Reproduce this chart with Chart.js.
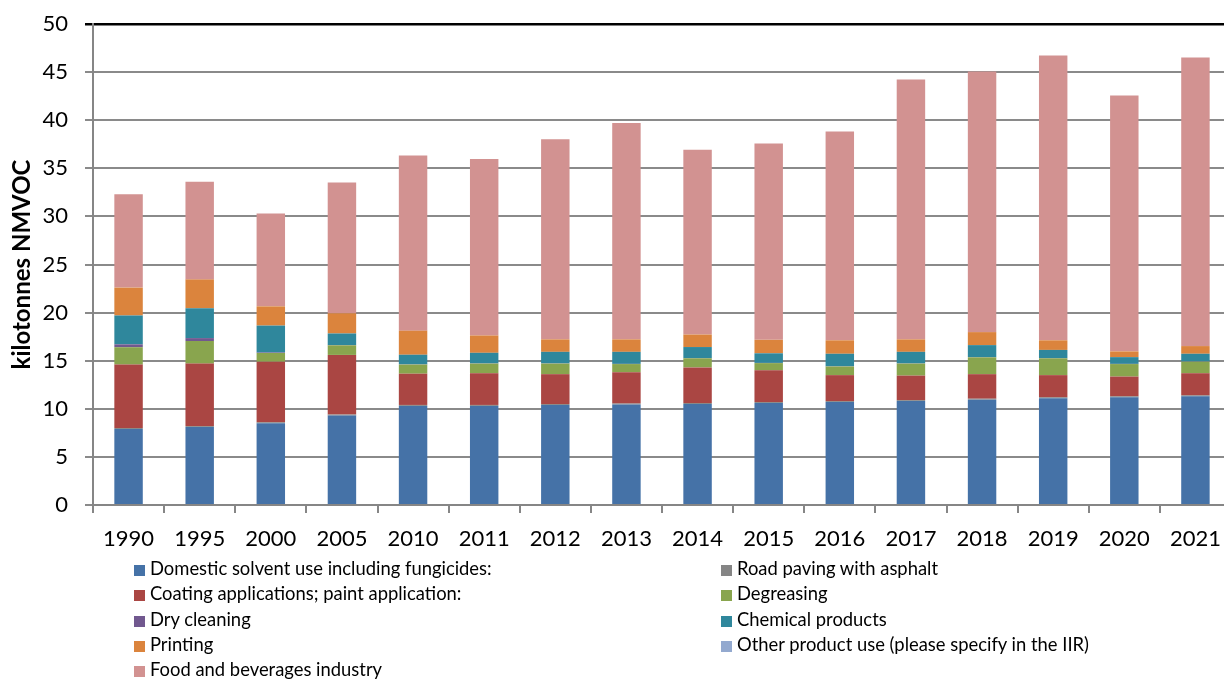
<!DOCTYPE html>
<html>
<head>
<meta charset="utf-8">
<script src="https://cdn.jsdelivr.net/npm/chart.js@4/dist/chart.umd.min.js"></script>
<style>
  html, body { margin: 0; padding: 0; background: #fff; overflow: hidden; width: 1224px; height: 681px; }
  #wrap { position: absolute; left: 0; top: 0; width: 1240px; height: 555px; }
  #legend { position: absolute; left: 0; top: 0; width: 1224px; height: 681px; pointer-events: none;
            font-family: Lato, "Open Sans", sans-serif; font-size: 18.4px; color: #000; }
  .item { position: absolute; height: 25px; line-height: 25px; white-space: nowrap; }
  .box { display: inline-block; width: 11px; height: 11px; margin-right: 5px; vertical-align: -1px; }
</style>
</head>
<body>
<div id="wrap"><canvas id="chart" width="1240" height="555"></canvas></div>
<div id="legend"></div>
<script>
// NMVOC emissions from solvent and product use, kilotonnes
const years = ['1990','1995','2000','2005','2010','2011','2012','2013','2014','2015','2016','2017','2018','2019','2020','2021'];

const domestic   = [7.9, 8.1, 8.5, 9.3, 10.3, 10.3, 10.4, 10.45, 10.5, 10.6, 10.7, 10.8, 10.95, 11.1, 11.2, 11.3];
const roadPaving = [0.1, 0.1, 0.1, 0.1, 0.1, 0.1, 0.1, 0.1, 0.1, 0.1, 0.1, 0.1, 0.1, 0.1, 0.1, 0.1];
const coating    = [6.6, 6.5, 6.3, 6.2, 3.25, 3.3, 3.1, 3.25, 3.7, 3.3, 2.7, 2.55, 2.55, 2.3, 2.05, 2.3];
const degreasing = [1.8, 2.35, 0.9, 1.0, 0.95, 1.0, 1.1, 0.85, 0.95, 0.75, 0.9, 1.25, 1.75, 1.75, 1.3, 1.2];
const dryCleaning= [0.3, 0.3, 0.05, 0.03, 0.02, 0.02, 0.02, 0.02, 0.02, 0.02, 0.02, 0.02, 0.02, 0.02, 0.02, 0.02];
const chemical   = [3.0, 3.1, 2.8, 1.2, 1.0, 1.1, 1.2, 1.25, 1.15, 1.0, 1.3, 1.2, 1.25, 0.85, 0.7, 0.8];
const printing   = [2.9, 3.0, 2.0, 2.1, 2.5, 1.8, 1.3, 1.3, 1.3, 1.4, 1.4, 1.3, 1.35, 1.0, 0.6, 0.8];
const otherUse   = [0, 0, 0, 0, 0, 0, 0, 0, 0, 0, 0, 0, 0, 0, 0, 0];
const foodBev    = [9.7, 10.15, 9.65, 13.6, 18.2, 18.35, 20.8, 22.5, 19.2, 20.4, 21.7, 27.0, 27.1, 29.6, 26.6, 30.0];

const yTicks = [0, 5, 10, 15, 20, 25, 30, 35, 40, 45, 50];

const seriesNames = [
  'Domestic solvent use including fungicides:',
  'Road paving with asphalt',
  'Coating applications; paint application:',
  'Degreasing',
  'Dry cleaning',
  'Chemical products',
  'Printing',
  'Other product use (please specify in the IIR)',
  'Food and beverages industry'
];
const seriesData = [domestic, roadPaving, coating, degreasing, dryCleaning, chemical, printing, otherUse, foodBev];
const seriesColors = ['#4572A7', '#858585', '#AA4643', '#89A54E', '#71588F', '#2F879C', '#DB843D', '#93A9CF', '#D29291'];

const FONT = 'Lato, "Open Sans", sans-serif';

const datasets = seriesNames.map((name, i) => ({
  label: name,
  data: seriesData[i],
  backgroundColor: seriesColors[i],
  borderWidth: 0,
  barPercentage: 0.4,
  categoryPercentage: 1.0
}));

new Chart(document.getElementById('chart'), {
  type: 'bar',
  data: { labels: years, datasets },
  options: {
    responsive: false,
    animation: false,
    devicePixelRatio: 1,
    layout: { padding: { top: 24, right: 9, left: 0, bottom: 0 } },
    plugins: { legend: { display: false }, tooltip: { enabled: false } },
    scales: {
      x: {
        stacked: true,
        grid: { display: true, drawOnChartArea: false, drawTicks: true, tickLength: 8, color: '#868686', lineWidth: 2, offset: true },
        border: { display: true, color: '#868686', width: 2 },
        ticks: { color: '#000', font: { family: FONT, size: 22 }, padding: 13, maxRotation: 0, autoSkip: false },
        afterFit: (s) => { s.height = 50; s.paddingLeft = 0; s.paddingRight = 0; }
      },
      y: {
        stacked: true,
        min: 0, max: 50,
        afterBuildTicks: (s) => { s.ticks = yTicks.map(v => ({ value: v })); },
        grid: {
          drawTicks: true, tickLength: 8,
          color: (c) => (c.tick && c.tick.value === 50 ? '#000' : '#8a8a8a'),
          lineWidth: (c) => (c.tick && c.tick.value === 50 ? 2.5 : 2)
        },
        border: { display: true, color: '#868686', width: 2 },
        ticks: { color: '#000', font: { family: FONT, size: 22 }, padding: 17 },
        title: { display: true, text: 'kilotonnes NMVOC', color: '#000',
                 font: { family: FONT, size: 24, weight: 'bold' }, padding: { top: 8, bottom: 0 } },
        afterFit: (s) => { s.width = 93; s.paddingTop = 0; s.paddingBottom = 0; }
      }
    }
  }
});

// two-column legend, filled row by row
const legend = document.getElementById('legend');
const colX = [134, 721];
seriesNames.forEach((name, i) => {
  const el = document.createElement('div');
  el.className = 'item';
  el.style.left = colX[i % 2] + 'px';
  el.style.top = (556 + Math.floor(i / 2) * 25.3) + 'px';
  const box = document.createElement('span');
  box.className = 'box';
  box.style.background = seriesColors[i];
  el.appendChild(box);
  el.appendChild(document.createTextNode(name));
  legend.appendChild(el);
});
</script>
</body>
</html>
